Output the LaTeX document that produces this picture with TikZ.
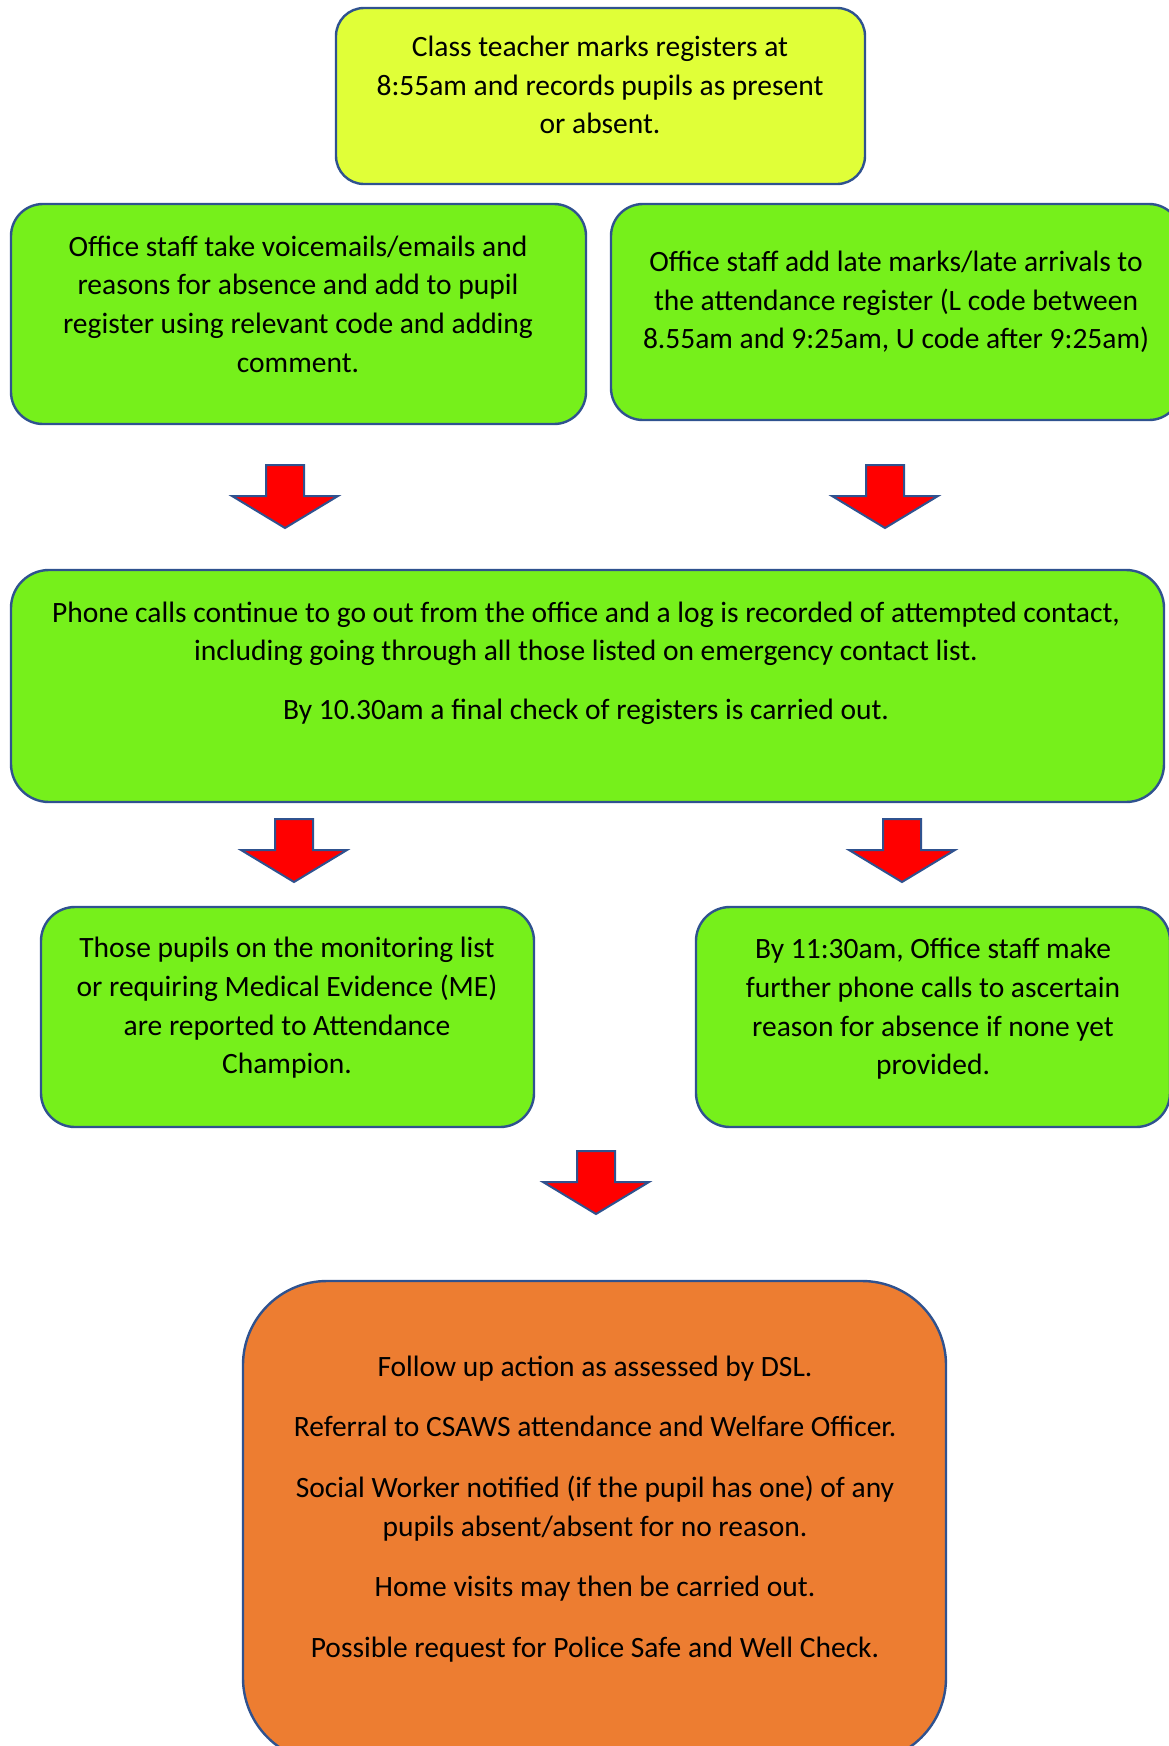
\documentclass[tikz,border=0pt]{standalone}
\usepackage{fontspec}
\setmainfont{Carlito}
\definecolor{edgeblue}{HTML}{2F528F}
\definecolor{limefill}{HTML}{E0FF38}
\definecolor{greenfill}{HTML}{76F01B}
\definecolor{orangefill}{HTML}{ED7D31}
\definecolor{arrowred}{HTML}{FF0000}
\tikzset{
  stagebox/.style={draw=edgeblue, line width=1.2pt, rectangle, inner sep=0pt},
  stagetext/.style={align=center, inner sep=0pt, font=\fontsize{14.75}{19.3}\selectfont},
  downarr/.pic={
    \draw[draw=edgeblue, fill=arrowred, line width=1pt]
      (-19,-63) -- (19,-63) -- (19,-32) -- (53,-32) -- (0,0)
      -- (-53,-32) -- (-19,-32) -- cycle;
  }
}
\begin{document}
\begin{tikzpicture}[x=0.5pt, y=-0.5pt]
        \useasboundingbox (0,0) rectangle (1168,1746);

        % boxes
        \node[stagebox, fill=limefill, rounded corners=14pt, minimum width=264.5pt, minimum height=88pt] (register) at (600.5,96) {};
        \node[stagebox, fill=greenfill, rounded corners=16pt, minimum width=287.5pt, minimum height=110pt] (absence) at (298.5,314) {};
        \node[stagebox, fill=greenfill, rounded corners=16pt, minimum width=285pt, minimum height=108pt] (late) at (896,312) {};
        \node[stagebox, fill=greenfill, rounded corners=19pt, minimum width=576.5pt, minimum height=116pt] (calls) at (587.5,686) {};
        \node[stagebox, fill=greenfill, rounded corners=17pt, minimum width=246.5pt, minimum height=110pt] (monitor) at (287.5,1017) {};
        \node[stagebox, fill=greenfill, rounded corners=17pt, minimum width=237pt, minimum height=110pt] (further) at (933,1017) {};
        \node[stagebox, fill=orangefill, rounded corners=42pt, minimum width=351.5pt, minimum height=240.5pt] (dsl) at (594.5,1521.5) {};

        % texts
        \node[stagetext] (registerT) at (600,85) {Class teacher marks registers at\\8:55am and records pupils as present\\or absent.};
        \node[stagetext] (absenceT) at (298,304) {Office staff take voicemails/emails and\\reasons for absence and add to pupil\\register using relevant code and adding\\comment.};
        \node[stagetext] (lateT) at (896,302) {Office staff add late marks/late arrivals to\\the attendance register (L code between\\8.55am and 9:25am, U code after 9:25am)};
        \node[stagetext] (callsT) at (586,663) {Phone calls continue to go out from the office and a log is recorded of attempted contact,\\including going through all those listed on emergency contact list.\\[10pt]By 10.30am a final check of registers is carried out.};
        \node[stagetext] (monitorT) at (287,1008) {Those pupils on the monitoring list\\or requiring Medical Evidence (ME)\\are reported to Attendance\\Champion.};
        \node[stagetext] (furtherT) at (933,1009) {By 11:30am, Office staff make\\further phone calls to ascertain\\reason for absence if none yet\\provided.};
        \node[stagetext] (dslT) at (595,1509) {Follow up action as assessed by DSL.\\[11pt]Referral to CSAWS attendance and Welfare Officer.\\[11pt]Social Worker notified (if the pupil has one) of any\\pupils absent/absent for no reason.\\[11pt]Home visits may then be carried out.\\[11pt]Possible request for Police Safe and Well Check.};

        % arrows
        \pic at (285,528) {downarr};
        \pic at (885,528) {downarr};
        \pic at (294,882) {downarr};
        \pic at (902,882) {downarr};
        \pic at (596,1214) {downarr};
    \end{tikzpicture}
\end{document}
